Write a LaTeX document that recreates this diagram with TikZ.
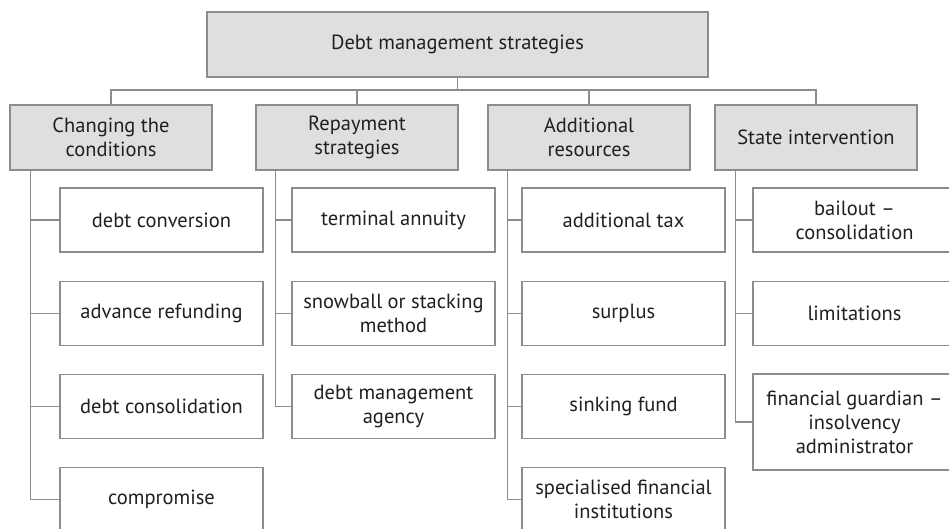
\documentclass[tikz,border=0pt]{standalone}
\usepackage{fontspec}
\setmainfont{PT Sans}
\definecolor{boxfill}{RGB}{223,223,225}
\definecolor{edge}{RGB}{140,140,142}
\definecolor{ink}{RGB}{35,31,32}
\begin{document}
\begin{tikzpicture}[x=1pt,y=-1pt,
  base/.style={draw=edge, line width=1.3pt, inner sep=0pt, align=center, text=ink,
    font=\fontsize{20.5}{24}\selectfont},
  topbox/.style={base, fill=boxfill, minimum width=501pt, minimum height=65pt},
  catbox/.style={base, fill=boxfill, minimum width=202pt, minimum height=65pt},
  itembox/.style={base, fill=white, minimum width=203pt, minimum height=64pt},
  link/.style={draw=edge, line width=1.2pt}]
\useasboundingbox (0,0) rectangle (949,529);
\clip (0,0) rectangle (949,529);

\node[topbox] (top) at (457.5,44.5) {Debt management strategies};

\node[catbox] (c1) at (111,137.5) {Changing the\\conditions};
\node[catbox] (c2) at (357,137.5) {Repayment\\strategies};
\node[catbox] (c3) at (589,137.5) {Additional\\resources};
\node[catbox] (c4) at (816,137.5) {State intervention};

% column 1
\node[itembox] (a1) at (161.5,220) {debt conversion};
\node[itembox] (a2) at (161.5,313.5) {advance refunding};
\node[itembox] (a3) at (161.5,406.5) {debt consolidation};
\node[itembox] (a4) at (161.5,499.5) {compromise};
% column 2
\node[itembox] (b1) at (393.5,220) {terminal annuity};
\node[itembox] (b2) at (393.5,313.5) {snowball or stacking\\method};
\node[itembox] (b3) at (393.5,406.5) {debt management\\agency};
% column 3
\node[itembox] (d1) at (623.5,220) {additional tax};
\node[itembox] (d2) at (623.5,313.5) {surplus};
\node[itembox] (d3) at (623.5,406.5) {sinking fund};
\node[itembox] (d4) at (623.5,499.5) {specialised financial\\institutions};
% column 4
\node[itembox] (e1) at (854.5,220) {bailout --\\consolidation};
\node[itembox] (e2) at (854.5,313.5) {limitations};
\node[itembox, minimum height=96pt] (e3) at (854.5,422) {financial guardian --\\insolvency\\administrator};

% top connectors
\coordinate (bus) at (457.5,90);
\draw[link] (top.south) -- (bus);
\draw[link] (bus) -| (c1.north);
\draw[link] (bus) -| (c2.north);
\draw[link] (bus) -| (c3.north);
\draw[link] (bus) -| (c4.north);

% column connectors
\foreach \ch in {a1,a2,a3,a4}{\draw[link] (c1.south west) ++(21,0) |- (\ch.west);}
\foreach \ch in {b1,b2,b3}{\draw[link] (c2.south west) ++(20,0) |- (\ch.west);}
\foreach \ch in {d1,d2,d3,d4}{\draw[link] (c3.south west) ++(20,0) |- (\ch.west);}
\foreach \ch in {e1,e2,e3}{\draw[link] (c4.south west) ++(21,0) |- (\ch.west);}
\end{tikzpicture}
\end{document}
